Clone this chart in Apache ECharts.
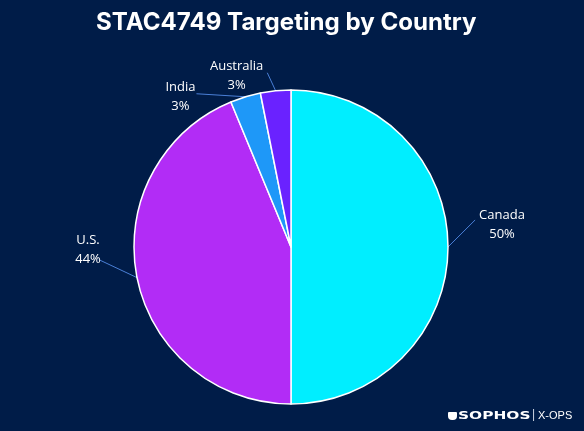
<!DOCTYPE html>
<html><head><meta charset="utf-8">
<script src="https://cdn.jsdelivr.net/npm/echarts@6/dist/echarts.min.js"></script>
<style>html,body{margin:0;padding:0;background:#001C48;}#c{width:584px;height:431px;}</style>
</head><body><div id="c"></div>
<script>
const countries = ['Canada', 'U.S.', 'India', 'Australia'];
const counts = [16, 14, 1, 1];
const colors = ['#00EEFF', '#B22CF6', '#1E98F8', '#6A22FF'];
// label centre offset from the slice's outer edge anchor
const labelOffset = [[54, -22], [-49, -28], [-65, 0], [-39, -15]];
// where the leader line meets the label: gap beyond text edge, vertical offset from centre
const lineEndGap = [4, -2, 1, 4];
const lineEndDy = [-5, 10, -3, -3];

const chart = echarts.init(document.getElementById('c'));
chart.setOption({
  backgroundColor: '#001C48',
  title: {
    text: 'STAC4749 Targeting by Country',
    left: 91, top: 6,
    textStyle: { color: '#ffffff', fontSize: 24.1, fontWeight: 'bold', fontFamily: 'Inter' }
  },
  graphic: [
    { type: 'rect', left: 448, top: 412, shape: { width: 9, height: 8, r: [1, 1, 4, 4] }, style: { fill: '#ffffff' } },
    { type: 'text', x: 458, y: 411, scaleX: 1.4,
      style: { text: 'SOPHOS', fill: '#ffffff', font: 'bold 11px "DejaVu Sans"' } },
    { type: 'text', x: 532, y: 409,
      style: { text: '|', fill: '#cfd6e4', font: '12px "Liberation Sans"' } },
    { type: 'text', x: 538, y: 410,
      style: { text: 'X-OPS', fill: '#ffffff', font: '11px "Liberation Sans"' } }
  ],
  series: [{
    type: 'pie',
    center: [291, 247],
    radius: 157,
    startAngle: 90,
    clockwise: true,
    data: countries.map((n, i) => ({ name: n, value: counts[i], itemStyle: { color: colors[i] } })),
    itemStyle: { borderColor: '#ffffff', borderWidth: 1.5 },
    label: {
      show: true, position: 'outside', color: '#ffffff', fontSize: 13, fontFamily: 'Open Sans',
      lineHeight: 18.5,
      formatter: p => p.name + '\n' + Math.round(p.percent) + '%'
    },
    labelLine: { show: true, length: 10, length2: 0, lineStyle: { color: '#4A7FD6', width: 1 } },
    labelLayout: p => {
      const i = p.dataIndex;
      const a = p.labelLinePoints ? p.labelLinePoints[0] : [p.rect.x, p.rect.y];
      const cx = a[0] + labelOffset[i][0];
      const cy = a[1] + labelOffset[i][1];
      const hw = p.labelRect.width / 2;
      const side = labelOffset[i][0] > 0 ? -1 : 1;
      const ex = cx + side * (hw + lineEndGap[i]);
      return {
        x: cx, y: cy, align: 'center', verticalAlign: 'middle',
        labelLinePoints: [[a[0], a[1]], [ex, cy + lineEndDy[i]], [ex, cy + lineEndDy[i]]]
      };
    },
    emphasis: { disabled: true }
  }]
});
</script></body></html>
